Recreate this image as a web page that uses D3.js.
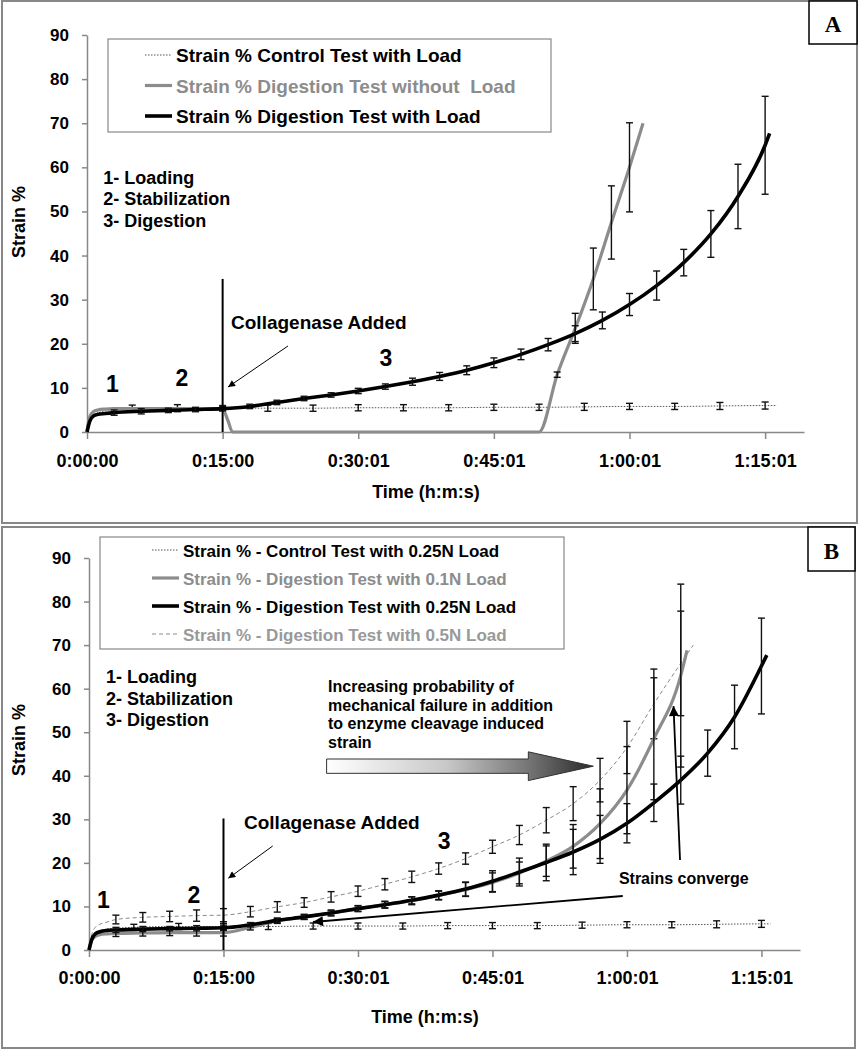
<!DOCTYPE html>
<html><head><meta charset="utf-8">
<script src="https://cdn.jsdelivr.net/npm/d3@7"></script>
<style>body{margin:0;background:#fff} svg{display:block}</style>
</head><body><svg id="c" width="860" height="1050"></svg>
<script>
// ---------- shared axis data ----------
const xTickValues = [0, 15, 30, 45, 60, 75];
const xTickLabels = ["0:00:00", "0:15:00", "0:30:01", "0:45:01", "1:00:01", "1:15:01"];
const yTickValues = [0, 10, 20, 30, 40, 50, 60, 70, 80, 90];
const xMaxMinutes = 79.3;
const phaseLabels = ["1- Loading", "2- Stabilization", "3- Digestion"];
const phaseNumbers = ["1", "2", "3"];

// ---------- Panel A data (time in minutes, strain %) ----------
const aCtrlTime   = [0, 0.3, 0.7, 1.2, 2, 5, 10, 15, 20, 25, 30, 35, 40, 45, 50, 55, 60, 65, 70, 75, 76.3];
const aCtrlStrain = [0, 2.0, 3.5, 4.3, 4.8, 5.3, 5.4, 5.4, 5.4, 5.4, 5.5, 5.5, 5.5, 5.6, 5.6, 5.7, 5.8, 5.8, 5.9, 6.0, 6.0];
const aCtrlErr    = [null, null, null, null, null, 0.8, 0.8, 0.6, 0.7, 0.7, 0.7, 0.7, 0.7, 0.7, 0.7, 0.8, 0.7, 0.7, 0.8, 0.8, null];

const aNoLoadTime   = [0, 0.3, 0.7, 1.2, 2, 3, 6, 9, 12, 15, 15.6, 16.1, 50.0, 52, 54, 56, 58, 60, 61.5];
const aNoLoadStrain = [0, 3.5, 4.6, 5.0, 5.2, 5.3, 5.3, 5.3, 5.3, 5.2, 2.5, 0, 0, 13.0, 23.5, 34.7, 47.5, 60.0, 70.0];
const aNoLoadErr    = [null, null, null, null, null, null, null, null, null, null, null, null, null, 0.6, 3.4, 7.0, 8.3, 10.1, null];

const aLoadTime   = [0, 0.3, 0.7, 1.2, 2, 3, 6, 9, 12, 15, 18, 21, 24, 27, 30, 33, 36, 39, 42, 45, 48, 51, 54, 57, 60, 63, 66, 69, 72, 75, 75.5];
const aLoadStrain = [0, 2.4, 3.6, 4.0, 4.2, 4.4, 4.7, 4.9, 5.1, 5.3, 5.8, 6.7, 7.6, 8.4, 9.3, 10.3, 11.4, 12.6, 14.0, 15.7, 17.6, 19.8, 22.3, 25.3, 28.9, 33.2, 38.4, 44.9, 53.4, 65.0, 67.7];
const aLoadErr    = [null, null, null, null, null, 0.6, 0.6, 0.5, 0.5, 0.5, 0.5, 0.5, 0.5, 0.5, 0.6, 0.6, 0.8, 0.9, 1.0, 1.1, 1.2, 1.4, 1.8, 1.9, 2.5, 3.3, 3.0, 5.3, 7.3, 11.1, null];

const aLegendLabels = ["Strain % Control Test with Load", "Strain % Digestion Test without  Load", "Strain % Digestion Test with Load"];

// ---------- Panel B data ----------
const bCtrlTime   = [0, 0.3, 0.7, 1.2, 2, 5, 10, 15, 20, 25, 30, 35, 40, 45, 50, 55, 60, 65, 70, 75, 76.0];
const bCtrlStrain = [0, 2.0, 3.5, 4.3, 4.8, 5.2, 5.4, 5.4, 5.4, 5.5, 5.5, 5.5, 5.6, 5.6, 5.6, 5.7, 5.8, 5.8, 5.9, 6.0, 6.0];
const bCtrlErr    = [null, null, null, null, null, 0.7, 0.7, 0.7, 0.7, 0.7, 0.7, 0.7, 0.7, 0.7, 0.7, 0.7, 0.7, 0.7, 0.8, 0.8, null];

const b01Time   = [0, 0.3, 0.7, 1.2, 2, 3, 6, 9, 12, 15, 18, 21, 24, 27, 30, 33, 36, 39, 42, 45, 48, 51, 54, 57, 60, 63, 66, 66.7];
const b01Strain = [0, 2.2, 3.1, 3.5, 3.7, 3.8, 3.9, 4.0, 4.0, 4.0, 5.2, 6.7, 7.6, 8.5, 9.5, 10.4, 11.3, 12.5, 13.9, 15.5, 17.7, 20.4, 23.8, 29.0, 36.7, 48.5, 63.0, 68.8];
const b01Err    = [null, null, null, null, null, 0.7, 0.7, 0.7, 0.8, 0.8, 0.6, 0.6, 0.6, 0.7, 0.7, 0.8, 0.9, 1.0, 1.6, 2.2, 2.5, 3.5, 5.0, 8.0, 10.0, 14.0, 21.0, null];

const b025Time   = [0, 0.3, 0.7, 1.2, 2, 3, 6, 9, 12, 15, 18, 21, 24, 27, 30, 33, 36, 39, 42, 45, 48, 51, 54, 57, 60, 63, 66, 69, 72, 75, 75.6];
const b025Strain = [0, 2.4, 3.7, 4.2, 4.5, 4.6, 4.8, 4.9, 5.0, 5.1, 5.8, 6.8, 7.6, 8.5, 9.5, 10.4, 11.4, 12.6, 14.0, 15.8, 17.9, 20.1, 22.5, 25.4, 29.1, 33.8, 39.0, 45.2, 53.5, 65.2, 67.7];
const b025Err    = [null, null, null, null, null, 0.6, 0.6, 0.5, 0.6, 0.6, 0.5, 0.5, 0.5, 0.5, 0.6, 0.7, 0.8, 1.0, 1.6, 2.4, 3.2, 4.2, 5.2, 5.5, 4.5, 4.3, 5.5, 5.3, 7.3, 11.0, null];

const b05Time   = [0, 0.3, 0.7, 1.2, 2, 3, 6, 9, 12, 15, 18, 21, 24, 27, 30, 33, 36, 39, 42, 45, 48, 51, 54, 57, 60, 63, 66, 67.4];
const b05Strain = [0, 3.5, 5.2, 5.9, 6.4, 7.0, 7.5, 7.7, 7.9, 8.0, 8.8, 9.9, 10.9, 12.2, 13.5, 15.1, 16.8, 18.7, 21.0, 23.7, 26.4, 29.8, 33.6, 39.0, 46.5, 56.5, 65.8, 70.0];
const b05Err    = [null, null, null, null, null, 1.0, 1.1, 1.2, 1.3, 1.5, 1.2, 1.2, 1.1, 1.2, 1.2, 1.3, 1.3, 1.3, 1.3, 1.5, 2.2, 2.9, 3.9, 5.0, 6.0, 8.0, 12.0, null];

const bLegendLabels = ["Strain % - Control Test with 0.25N Load", "Strain % - Digestion Test with 0.1N Load", "Strain % - Digestion Test with 0.25N Load", "Strain % - Digestion Test with 0.5N Load"];
const bNoteLines = ["Increasing probability of", "mechanical failure in addition", "to enzyme cleavage induced", "strain"];

// ---------- styles ----------
const FONT = '"Liberation Sans", Arial, Helvetica, sans-serif';
const ST = {
  ctrl:   {stroke: "#555", width: 1, dash: "1.5,1.5", text: "#000"},
  gray:   {stroke: "#8c8c8c", width: 3.2, dash: null, text: "#8c8c8c"},
  black:  {stroke: "#000", width: 3.6, dash: null, text: "#000"},
  dashed: {stroke: "#8a8a8a", width: 1, dash: "4,3", text: "#999"}
};

const svg = d3.select("#c");
svg.append("rect").attr("width", 860).attr("height", 1050).attr("fill", "#fff");
const defs = svg.append("defs");
defs.append("marker").attr("id", "arrSmall").attr("viewBox", "0 0 10 10").attr("refX", 10).attr("refY", 5)
  .attr("markerWidth", 9).attr("markerHeight", 7).attr("markerUnits", "userSpaceOnUse").attr("orient", "auto")
  .append("path").attr("d", "M0,0L10,5L0,10z").attr("fill", "#000");
defs.append("marker").attr("id", "arrBig").attr("viewBox", "0 0 10 10").attr("refX", 10).attr("refY", 5)
  .attr("markerWidth", 13).attr("markerHeight", 10).attr("markerUnits", "userSpaceOnUse").attr("orient", "auto")
  .append("path").attr("d", "M0,0L10,5L0,10z").attr("fill", "#000");
const grad = defs.append("linearGradient").attr("id", "gArrow").attr("x1", "0%").attr("x2", "100%").attr("y1", "0%").attr("y2", "0%");
grad.append("stop").attr("offset", "0%").attr("stop-color", "#ffffff");
grad.append("stop").attr("offset", "45%").attr("stop-color", "#c8c8c8");
grad.append("stop").attr("offset", "75%").attr("stop-color", "#777");
grad.append("stop").attr("offset", "100%").attr("stop-color", "#2a2a2a");

function txt(g, s, px, py, size, opts = {}) {
  return g.append("text").attr("x", px).attr("y", py).text(s)
    .attr("font-family", opts.family || FONT).attr("font-weight", "bold")
    .attr("font-size", size).attr("fill", opts.fill || "#000")
    .attr("text-anchor", opts.anchor || "start").style("white-space", "pre");
}

function drawSeries(g, x, y, time, vals, errs, st) {
  const pts = time.map((t, i) => ({t, v: vals[i], e: errs[i]}));
  g.append("path").datum(pts).attr("fill", "none").attr("stroke", st.stroke)
    .attr("stroke-width", st.width).attr("stroke-dasharray", st.dash)
    .attr("stroke-linejoin", "round")
    .attr("d", d3.line().x(d => x(d.t)).y(d => y(d.v)).curve(d3.curveMonotoneX));
  const eb = g.append("g").selectAll("g").data(pts.filter(d => d.e != null)).join("g")
    .attr("stroke", "#111").attr("stroke-width", 1.4);
  eb.append("line").attr("x1", d => x(d.t)).attr("x2", d => x(d.t))
    .attr("y1", d => y(d.v - d.e)).attr("y2", d => y(d.v + d.e));
  eb.append("line").attr("x1", d => x(d.t) - 3.5).attr("x2", d => x(d.t) + 3.5)
    .attr("y1", d => y(d.v - d.e)).attr("y2", d => y(d.v - d.e));
  eb.append("line").attr("x1", d => x(d.t) - 3.5).attr("x2", d => x(d.t) + 3.5)
    .attr("y1", d => y(d.v + d.e)).attr("y2", d => y(d.v + d.e));
}

function panel(cfg) {
  const g = svg.append("g");
  g.append("rect").attr("x", cfg.frame[0]).attr("y", cfg.frame[1]).attr("width", cfg.frame[2]).attr("height", cfg.frame[3])
    .attr("fill", "#fff").attr("stroke", "#888").attr("stroke-width", 2);
  const x = d3.scaleLinear().domain([0, xMaxMinutes]).range([cfg.xl, cfg.xr]);
  const y = d3.scaleLinear().domain([0, 90]).range([cfg.yb, cfg.yt]);

  const ya = g.append("g").attr("transform", `translate(${cfg.xl},0)`)
    .call(d3.axisLeft(y).tickValues(yTickValues).tickSizeInner(5).tickSizeOuter(0).tickPadding(13));
  ya.attr("font-size", 17).attr("font-family", FONT).attr("font-weight", "bold");
  ya.selectAll("path,line").attr("stroke", "#888").attr("stroke-width", 1.5);
  ya.selectAll("text").attr("fill", "#000");

  const xa = g.append("g").attr("transform", `translate(0,${cfg.yb})`)
    .call(d3.axisBottom(x).tickValues(xTickValues).tickFormat((d, i) => xTickLabels[i]).tickSizeInner(7).tickSizeOuter(0));
  xa.attr("font-size", 18).attr("font-family", FONT).attr("font-weight", "bold");
  xa.selectAll("path,line").attr("stroke", "#888").attr("stroke-width", 1.5);
  xa.selectAll("text").attr("fill", "#000").attr("y", cfg.tickLabelDy).attr("dy", 0);

  txt(g, "Strain %", 0, 0, 18).attr("text-anchor", "middle")
    .attr("transform", `translate(${cfg.yTitle[0]},${cfg.yTitle[1]}) rotate(-90)`).attr("x", null).attr("y", null);
  txt(g, "Time (h:m:s)", cfg.xTitle[0], cfg.xTitle[1], 18, {anchor: "middle"});

  // legend
  const L = cfg.legend;
  g.append("rect").attr("x", L.box[0]).attr("y", L.box[1]).attr("width", L.box[2]).attr("height", L.box[3])
    .attr("fill", "#fff").attr("stroke", "#888").attr("stroke-width", 1.2);
  L.labels.forEach((lab, i) => {
    const st = L.styles[i];
    const base = L.base0 + i * L.step;
    g.append("line").attr("x1", L.lineX[0]).attr("x2", L.lineX[1]).attr("y1", base - 7).attr("y2", base - 7)
      .attr("stroke", st.stroke).attr("stroke-width", st.width).attr("stroke-dasharray", st.dash);
    txt(g, lab, L.textX, base, L.size, {fill: st.text});
  });

  // letter box
  g.append("rect").attr("x", cfg.letterBox[0]).attr("y", cfg.letterBox[1]).attr("width", cfg.letterBox[2]).attr("height", cfg.letterBox[3])
    .attr("fill", "#fff").attr("stroke", "#000").attr("stroke-width", 1.5);
  txt(g, cfg.letter, cfg.letterBox[0] + cfg.letterBox[2] / 2, cfg.letterBase, 23,
    {anchor: "middle", family: '"Liberation Serif", "Times New Roman", serif'});

  cfg.series.forEach(s => drawSeries(g, x, y, s.t, s.v, s.e, s.st));

  // collagenase line + label + arrow
  g.append("line").attr("x1", x(15)).attr("x2", x(15)).attr("y1", y(0)).attr("y2", y(cfg.vTop))
    .attr("stroke", "#000").attr("stroke-width", 2);
  txt(g, "Collagenase Added", x(cfg.collText[0]), y(cfg.collText[1]), 19);
  g.append("line").attr("x1", x(cfg.collArrow[0])).attr("y1", y(cfg.collArrow[1]))
    .attr("x2", x(cfg.collArrow[2])).attr("y2", y(cfg.collArrow[3]))
    .attr("stroke", "#000").attr("stroke-width", 1).attr("marker-end", "url(#arrSmall)");
  phaseNumbers.forEach((n, i) => txt(g, n, x(cfg.nums[i][0]), y(cfg.nums[i][1]), 23, {anchor: "middle"}));
  phaseLabels.forEach((p, i) => txt(g, p, x(cfg.phase[0]), y(cfg.phase[1]) + i * 21.5, 18));
  return {g, x, y};
}

// ---------- Panel A ----------
panel({
  frame: [2, 1, 855, 522], xl: 87, xr: 804, yb: 432, yt: 35, tickLabelDy: 35,
  yTitle: [25, 222], xTitle: [426, 498],
  legend: {box: [108, 39, 443, 93], labels: aLegendLabels, styles: [ST.ctrl, ST.gray, ST.black],
    base0: 62, step: 30.5, lineX: [145, 172], textX: 176, size: 19},
  letterBox: [809, 1, 48, 43], letter: "A", letterBase: 32,
  series: [
    {t: aCtrlTime, v: aCtrlStrain, e: aCtrlErr, st: ST.ctrl},
    {t: aNoLoadTime, v: aNoLoadStrain, e: aNoLoadErr, st: ST.gray},
    {t: aLoadTime, v: aLoadStrain, e: aLoadErr, st: ST.black}
  ],
  vTop: 34.7, collText: [15.93, 23.35], collArrow: [22.23, 19.5, 15.6, 10.2],
  nums: [[2.82, 9.07], [10.5, 10.4], [33.07, 14.96]],
  phase: [1.8, 56.3]
});

// ---------- Panel B ----------
const B = panel({
  frame: [2, 527, 853, 521], xl: 89, xr: 800, yb: 950, yt: 558, tickLabelDy: 34,
  yTitle: [25, 740], xTitle: [425, 1023],
  legend: {box: [100, 537, 464, 112], labels: bLegendLabels, styles: [ST.ctrl, ST.gray, ST.black, ST.dashed],
    base0: 557, step: 28, lineX: [152, 179], textX: 183, size: 17},
  letterBox: [808, 527, 47, 44], letter: "B", letterBase: 559,
  series: [
    {t: bCtrlTime, v: bCtrlStrain, e: bCtrlErr, st: ST.ctrl},
    {t: b05Time, v: b05Strain, e: b05Err, st: ST.dashed},
    {t: b01Time, v: b01Strain, e: b01Err, st: ST.gray},
    {t: b025Time, v: b025Strain, e: b025Err, st: ST.black}
  ],
  vTop: 30.2, collText: [17.29, 27.78], collArrow: [20.49, 23.88, 15.54, 16.46],
  nums: [[1.6, 9.64], [11.71, 10.79], [39.6, 23.19]],
  phase: [1.9, 61.2]
});

// panel B extra annotations
(function () {
  const {g, x, y} = B;
  bNoteLines.forEach((s, i) => txt(g, s, x(26.66), y(59.23) + i * 18.7, 16));
  const arrowPts = [[26.5, 43.85], [49.0, 43.85], [49.0, 45.5], [56.25, 42.2], [49.0, 38.9], [49.0, 40.56], [26.5, 40.56]];
  g.append("path").attr("d", d3.line().x(d => x(d[0])).y(d => y(d[1]))(arrowPts) + "Z")
    .attr("fill", "url(#gArrow)").attr("stroke", "#333").attr("stroke-width", 1);
  txt(g, "Strains converge", x(59.1), y(15.15), 16);
  g.append("line").attr("x1", x(65.92)).attr("y1", y(20.66)).attr("x2", x(65.19)).attr("y2", y(56.0))
    .attr("stroke", "#000").attr("stroke-width", 1.8).attr("marker-end", "url(#arrBig)");
  g.append("line").attr("x1", x(59.53)).attr("y1", y(12.4)).attr("x2", x(24.98)).attr("y2", y(6.43))
    .attr("stroke", "#000").attr("stroke-width", 1.8).attr("marker-end", "url(#arrBig)");
})();
</script></body></html>
